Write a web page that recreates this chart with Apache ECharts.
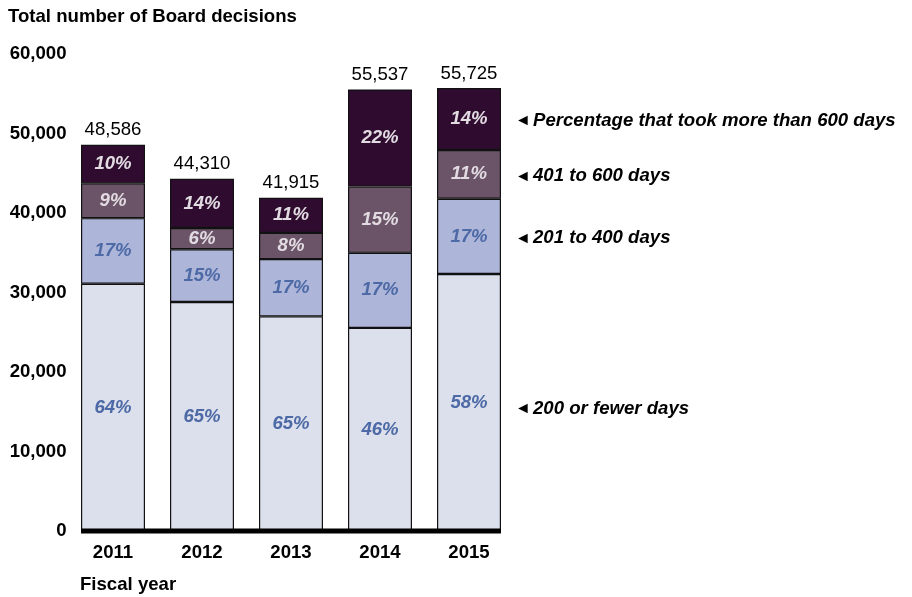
<!DOCTYPE html>
<html>
<head>
<meta charset="utf-8">
<script src="https://cdn.jsdelivr.net/npm/echarts@6/dist/echarts.min.js"></script>
<style>
  html, body { margin: 0; padding: 0; background: #fff; }
  #main { width: 912px; height: 597px; }
</style>
</head>
<body>
<div id="main"></div>
<script>
// fiscal years and totals
const years = ['2011', '2012', '2013', '2014', '2015']
const totals = [48586, 44310, 41915, 55537, 55725]

// decisions per duration band
const upTo200 = [31095, 28800, 27000, 25547, 32321]
const from201to400 = [8260, 6647, 7200, 9441, 9473]
const from401to600 = [4373, 2659, 3300, 8331, 6130]
const over600 = [4858, 6204, 4415, 12218, 7801]

// percentage labels printed in the bars
const pctUpTo200 = [64, 65, 65, 46, 58]
const pct201to400 = [17, 15, 17, 17, 17]
const pct401to600 = [9, 6, 8, 15, 11]
const pctOver600 = [10, 14, 11, 22, 14]

const bandNames = ['200 or fewer days', '201 to 400 days', '401 to 600 days', 'Percentage that took more than 600 days']
const yTicks = [0, 10000, 20000, 30000, 40000, 50000, 60000]

const FONT = "'Liberation Sans', Arial, sans-serif"
const FS = 18.6

function band (name, data, pcts, color, labelColor) {
  return {
    name: name,
    type: 'bar',
    stack: 'total',
    barWidth: 64,
    data: data,
    itemStyle: { color: color, borderColor: '#111', borderWidth: 1.2 },
    label: {
      show: true,
      position: 'inside',
      fontFamily: FONT,
      fontSize: FS,
      fontWeight: 'bold',
      fontStyle: 'italic',
      color: labelColor,
      formatter: p => pcts[p.dataIndex] + '%'
    }
  }
}

const chart = echarts.init(document.getElementById('main'))
const option = {
  animation: false,
  grid: { left: 68.5, right: 398.5, top: 54, bottom: 66 },
  xAxis: {
    type: 'category',
    data: years,
    axisLine: { show: false },
    axisTick: { show: false },
    axisLabel: { margin: 12, fontFamily: FONT, fontSize: FS, fontWeight: 'bold', color: '#000' }
  },
  yAxis: {
    type: 'value',
    min: yTicks[0],
    max: yTicks[yTicks.length - 1],
    interval: 10000,
    splitLine: { show: false },
    axisLine: { show: false },
    axisTick: { show: false },
    axisLabel: {
      margin: 2,
      align: 'right',
      fontFamily: FONT,
      fontSize: FS,
      fontWeight: 'bold',
      color: '#000',
      formatter: v => v.toLocaleString('en-US')
    }
  },
  series: [
    band(bandNames[0], upTo200, pctUpTo200, '#dcdfec', '#4d6aa6'),
    band(bandNames[1], from201to400, pct201to400, '#adb5d9', '#4d6aa6'),
    band(bandNames[2], from401to600, pct401to600, '#6b5468', '#e2dce2'),
    band(bandNames[3], over600, pctOver600, '#2f0c2f', '#e2dce2'),
    {
      // zero-height cap that carries the total label
      name: 'total',
      type: 'bar',
      stack: 'total',
      barWidth: 64,
      data: totals.map(() => 0),
      itemStyle: { color: 'transparent' },
      label: {
        show: true,
        position: 'top',
        distance: 5,
        fontFamily: FONT,
        fontSize: FS,
        color: '#000',
        formatter: p => totals[p.dataIndex].toLocaleString('en-US')
      }
    }
  ]
}
chart.setOption(option)

// side notes lined up with the 2015 segments, baseline and axis titles
const last = years.length - 1
const bands = [upTo200, from201to400, from401to600, over600]
let base = 0
const notes = []
bands.forEach((b, i) => {
  // the bottom note sits a little below the middle of its segment
  const mid = base + b[last] / 2 - (i === 0 ? 560 : 0)
  base += b[last]
  const pt = chart.convertToPixel({ gridIndex: 0 }, [last, mid])
  notes.push({
    type: 'text', left: 515, top: pt[1] - 6,
    style: { text: '◄', font: '16px ' + FONT, fill: '#000' }
  })
  notes.push({
    type: 'text', left: 533, top: pt[1] - 8,
    style: { text: bandNames[i], font: 'italic bold ' + FS + 'px ' + FONT, fill: '#000' }
  })
})
const p0 = chart.convertToPixel({ gridIndex: 0 }, [0, 0])
const p4 = chart.convertToPixel({ gridIndex: 0 }, [last, 0])
notes.push({
  type: 'line', z: 10,
  shape: { x1: p0[0] - 32, y1: p0[1], x2: p4[0] + 32, y2: p4[1] },
  style: { stroke: '#000', lineWidth: 5 }
})
notes.push({
  type: 'text', left: 8, top: 7,
  style: { text: 'Total number of Board decisions', font: 'bold ' + FS + 'px ' + FONT, fill: '#000' }
})
notes.push({
  type: 'text', left: 80, top: 575,
  style: { text: 'Fiscal year', font: 'bold ' + FS + 'px ' + FONT, fill: '#000' }
})
chart.setOption({ graphic: notes })
</script>
</body>
</html>
